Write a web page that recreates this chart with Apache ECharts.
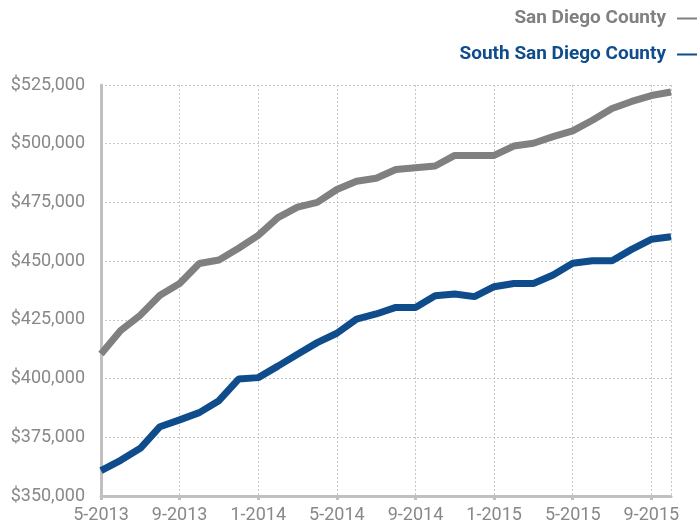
<!DOCTYPE html>
<html>
<head>
<meta charset="utf-8">
<script src="https://cdn.jsdelivr.net/npm/echarts@6/dist/echarts.min.js"></script>
<style>html,body{margin:0;padding:0;background:#fff}#c{width:699px;height:527px}</style>
</head>
<body>
<div id="c"></div>
<script>
const months = ["5-2013","6-2013","7-2013","8-2013","9-2013","10-2013","11-2013","12-2013",
  "1-2014","2-2014","3-2014","4-2014","5-2014","6-2014","7-2014","8-2014","9-2014","10-2014","11-2014","12-2014",
  "1-2015","2-2015","3-2015","4-2015","5-2015","6-2015","7-2015","8-2015","9-2015","10-2015"];
const sanDiego = [410500,420500,427000,435500,440500,449000,450500,455500,461000,468500,473000,475000,
  480500,484000,485300,489000,489800,490500,495000,495000,495000,499000,500200,503000,505500,510000,
  515000,518000,520500,522000];
const southSanDiego = [360800,365200,370300,379500,382400,385500,390600,399800,400400,405300,410400,415300,
  419300,425300,427500,430300,430300,435300,436000,434900,439100,440500,440500,444100,449100,450200,
  450200,455000,459300,460400];
const yMin = 350000, yMax = 525000, yStep = 25000;
const names = ["San Diego County", "South San Diego County"];
const colors = ["#808080", "#0e4c8c"];

const chart = echarts.init(document.getElementById('c'), null, {renderer: 'canvas'});
const legendFont = {fontFamily: "Roboto,sans-serif", fontWeight: 'bold', fontSize: 19};
const axisFont = {fontFamily: "Roboto,sans-serif", fontSize: 18, color: '#888'};
chart.setOption({
  animation: false,
  legend: [
    {data: [{name: names[0]}], right: 2, top: 9, padding: 0, align: 'right', icon: 'rect', itemWidth: 20, itemHeight: 2, itemGap: 0,
     textStyle: Object.assign({color: colors[0], padding: [0, 6, 0, 0]}, legendFont)},
    {data: [{name: names[1]}], right: 2, top: 45, padding: 0, align: 'right', icon: 'rect', itemWidth: 20, itemHeight: 2, itemGap: 0,
     textStyle: Object.assign({color: colors[1], padding: [0, 6, 0, 0]}, legendFont)}
  ],
  grid: {left: 101, right: 28, top: 85, bottom: 31, containLabel: false},
  xAxis: {
    type: 'category', data: months, boundaryGap: false,
    axisLine: {lineStyle: {color: '#c0c0c0', width: 3}},
    axisTick: {show: true, length: 4, lineStyle: {color: '#c0c0c0', width: 3}, interval: (i) => i % 4 === 0},
    axisLabel: Object.assign({interval: (i) => i % 4 === 0, margin: 10}, axisFont),
    splitLine: {show: true, interval: (i) => i % 4 === 0 || i === months.length - 1, lineStyle: {color: '#c8c8c8', type: [2, 2], width: 1}}
  },
  yAxis: {
    type: 'value', min: yMin, max: yMax, interval: yStep,
    axisLine: {show: true, lineStyle: {color: '#c0c0c0', width: 3}},
    axisTick: {show: false},
    axisLabel: Object.assign({margin: 16, formatter: (v) => '$' + v.toLocaleString('en-US')}, axisFont),
    splitLine: {show: true, lineStyle: {color: '#c8c8c8', type: [2, 2], width: 1}}
  },
  series: [
    {name: names[0], type: 'line', data: sanDiego, symbol: 'none', lineStyle: {color: colors[0], width: 7}, itemStyle: {color: colors[0]}},
    {name: names[1], type: 'line', data: southSanDiego, symbol: 'none', lineStyle: {color: colors[1], width: 7}, itemStyle: {color: colors[1]}}
  ]
});
</script>
</body>
</html>
